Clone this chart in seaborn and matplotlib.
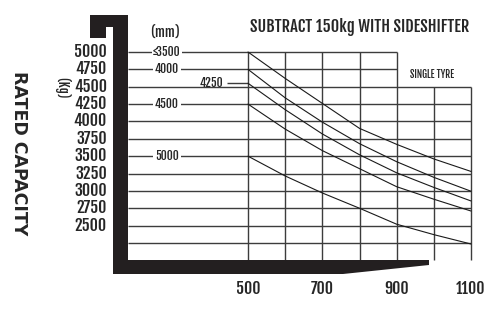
import numpy as np
import pandas as pd
import matplotlib
matplotlib.use('Agg')
import matplotlib.pyplot as plt
from matplotlib.patches import Polygon
import seaborn as sns

# load centre (mm) vs rated capacity (kg), one curve per mast height
load_centre = [500, 600, 700, 800, 900, 1000, 1100]
cap_3500 = [5000, 4620, 4260, 3900, 3670, 3460, 3280]
cap_4000 = [4750, 4340, 3990, 3680, 3420, 3195, 2995]
cap_4250 = [4550, 4170, 3820, 3520, 3260, 3050, 2855]
cap_4500 = [4250, 3890, 3580, 3320, 3060, 2880, 2710]
cap_5000 = [3500, 3215, 2970, 2750, 2520, 2370, 2235]
mast_labels = ['≤3500', '4000', '4250', '4500', '5000']

kg_ticks = [5000, 4750, 4500, 4250, 4000, 3750, 3500, 3250, 3000, 2750, 2500]
grid_kg = kg_ticks + [2250]
grid_mm = [500, 600, 700, 800, 900, 1000, 1100]
mm_ticks = [500, 700, 900, 1100]

df = pd.concat([
    pd.DataFrame({'mm': load_centre, 'kg': vals, 'mast': lab})
    for lab, vals in zip(mast_labels, [cap_3500, cap_4000, cap_4250, cap_4500, cap_5000])
])

W, H = 495, 313

# pixel -> data helpers (500mm sits at x=248px, 5000kg at y=52px)
def mm_at(px):
    return 500 + (px - 248) / 0.3717

def kg_at(py):
    return 5000 - (py - 52) / 0.069444

sns.set_theme(style='white')
plt.rcParams['font.family'] = ['Fjalla One', 'PT Sans Narrow', 'Oswald', 'DejaVu Sans']

fig = plt.figure(figsize=(W / 100, H / 100), dpi=100)
ax = fig.add_axes([0, 0, 1, 1])
ax.set_xlim(mm_at(0), mm_at(W))
ax.set_ylim(kg_at(H), kg_at(0))

grid_col = '#3c3c3c'
for kg in grid_kg:
    right = 900 if kg > 4500 else 1100
    ax.hlines(kg, mm_at(128), right, color=grid_col, lw=1.0, zorder=1)
for mm in grid_mm:
    top = 5000 if mm <= 900 else 4500
    ax.vlines(mm, kg_at(260), top, color=grid_col, lw=1.0, zorder=1)
ax.hlines(cap_4250[0], mm_at(227), 500, color=grid_col, lw=1.0, zorder=1)

sns.lineplot(data=df, x='mm', y='kg', units='mast', estimator=None, sort=False,
             color='#1a1a1a', linewidth=0.8, legend=False, ax=ax, zorder=2)

# mast height labels sitting on the lines
starts = dict(zip(mast_labels, [cap_3500[0], cap_4000[0], cap_4250[0], cap_4500[0], cap_5000[0]]))
for lab, kg in starts.items():
    if lab == '4250':
        ax.text(mm_at(211), kg, lab, ha='center', va='center', fontsize=8.5,
                fontweight='bold', zorder=4)
    else:
        ax.text(mm_at(167), kg, lab, ha='center', va='center', fontsize=8.5,
                fontweight='bold', zorder=4,
                bbox=dict(facecolor='white', edgecolor='none', pad=1.2))

for kg in kg_ticks:
    ax.text(mm_at(107), kg, str(kg), ha='right', va='center', fontsize=11.5, fontweight='bold')
for mm in mm_ticks:
    ax.text(mm, kg_at(289), str(mm), ha='center', va='center', fontsize=11.5, fontweight='bold')

# fork drawing
fork_px = [(90, 15), (128, 15), (128, 260), (429, 260), (429, 265), (343, 274),
           (113, 274), (113, 27), (106, 27), (106, 38), (90, 38)]
ax.add_patch(Polygon([(mm_at(x), kg_at(y)) for x, y in fork_px], closed=True,
                     facecolor='#231f20', edgecolor='none', zorder=3))

ax.text(mm_at(360), kg_at(27), 'SUBTRACT 150kg WITH SIDESHIFTER', ha='center', va='center',
        fontsize=11.8, fontweight='bold')
ax.text(mm_at(165), kg_at(32), '(mm)', ha='center', va='center', fontsize=9.5, fontweight='bold')
ax.text(mm_at(62), kg_at(88), '(Kg)', ha='center', va='center', fontsize=9,
        fontweight='bold', rotation=-90)
ax.text(mm_at(19), kg_at(153), 'RATED CAPACITY', ha='center', va='center', fontsize=12.5,
        fontweight='bold', rotation=-90, family='DejaVu Sans')
ax.text(mm_at(432), kg_at(75), 'SINGLE TYRE', ha='center', va='center', fontsize=7,
        fontweight='bold')

ax.axis('off')
fig.savefig('out.png', dpi=100, facecolor='white')
